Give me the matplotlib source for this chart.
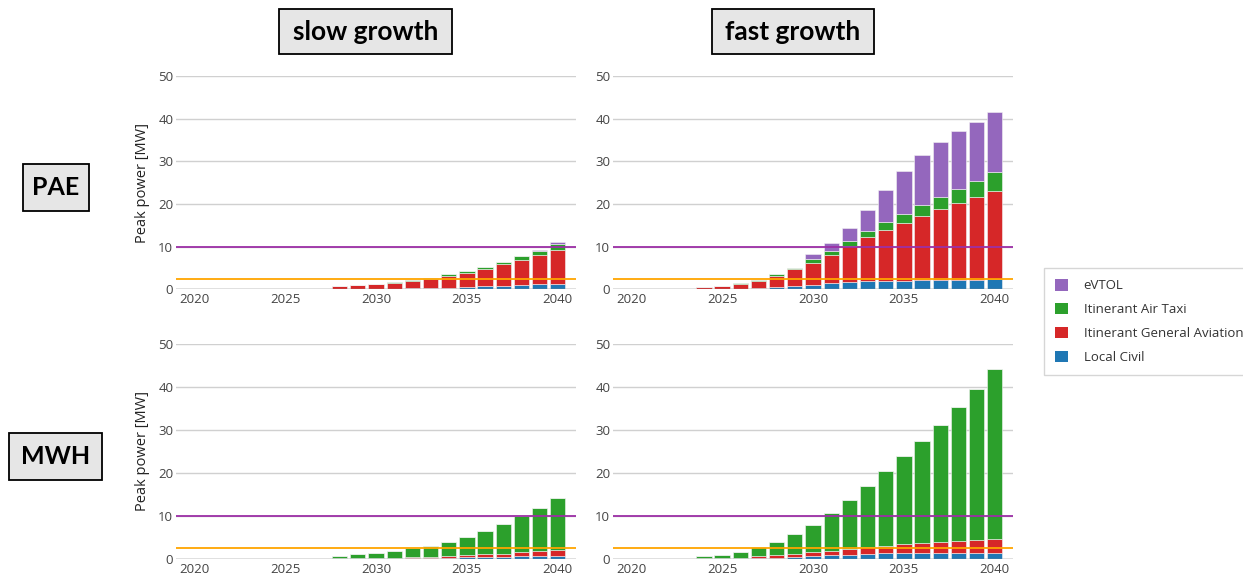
import matplotlib
matplotlib.use("Agg")
import matplotlib.pyplot as plt
from matplotlib.patches import Patch, Rectangle

plt.rcParams['font.family'] = ['Open Sans', 'DejaVu Sans']

years = list(range(2020, 2041))
year_ticks = [2020, 2025, 2030, 2035, 2040]
y_ticks = [0, 10, 20, 30, 40, 50]

series_names = ["Local Civil", "Itinerant General Aviation", "Itinerant Air Taxi", "eVTOL"]
series_colors = ["#1f77b4", "#d62728", "#2ca02c", "#9467bd"]

# PAE, slow growth
pae_slow_local = [0, 0, 0, 0, 0, 0, 0, 0, 0.05, 0.08, 0.1, 0.15, 0.2, 0.3, 0.4, 0.55, 0.7, 0.8, 0.95, 1.2, 1.35]
pae_slow_ga = [0, 0, 0, 0, 0, 0, 0, 0, 0.65, 0.83, 1.09, 1.35, 1.75, 2.2, 2.8, 3.35, 4.1, 5.05, 5.93, 6.85, 7.95]
pae_slow_taxi = [0, 0, 0, 0, 0, 0, 0, 0, 0, 0.02, 0.05, 0.1, 0.15, 0.2, 0.3, 0.4, 0.5, 0.65, 0.85, 1.0, 1.3]
pae_slow_evtol = [0, 0, 0, 0, 0, 0, 0, 0, 0, 0, 0, 0, 0, 0, 0, 0, 0, 0, 0.02, 0.05, 0.4]

# PAE, fast growth
pae_fast_local = [0, 0, 0, 0, 0.05, 0.08, 0.12, 0.2, 0.45, 0.8, 1.0, 1.4, 1.64, 1.9, 1.95, 2.0, 2.1, 2.2, 2.2, 2.25, 2.3]
pae_fast_ga = [0, 0, 0, 0, 0.42, 0.78, 1.23, 1.77, 2.75, 3.88, 5.25, 6.73, 8.52, 10.3, 11.95, 13.6, 15.1, 16.55, 18.0, 19.35, 20.8]
pae_fast_taxi = [0, 0, 0, 0, 0, 0, 0.05, 0.3, 0.3, 0.4, 0.78, 0.85, 1.14, 1.4, 1.9, 2.1, 2.5, 2.85, 3.3, 3.9, 4.3]
pae_fast_evtol = [0, 0, 0, 0, 0, 0, 0, 0, 0, 0, 1.17, 1.88, 3.1, 5.0, 7.4, 9.96, 11.8, 13.0, 13.6, 13.8, 14.1]

# MWH, slow growth
mwh_slow_local = [0, 0, 0, 0, 0, 0, 0, 0, 0.02, 0.03, 0.05, 0.07, 0.1, 0.15, 0.2, 0.25, 0.3, 0.4, 0.47, 0.55, 0.63]
mwh_slow_ga = [0, 0, 0, 0, 0, 0, 0, 0, 0.08, 0.09, 0.1, 0.13, 0.2, 0.25, 0.35, 0.45, 0.65, 0.7, 0.93, 1.1, 1.34]
mwh_slow_taxi = [0, 0, 0, 0, 0, 0, 0, 0, 0.53, 0.82, 1.11, 1.53, 2.06, 2.6, 3.39, 4.34, 5.45, 6.85, 8.6, 10.15, 12.03]
mwh_slow_evtol = [0, 0, 0, 0, 0, 0, 0, 0, 0, 0, 0, 0, 0, 0, 0, 0, 0, 0, 0, 0, 0]

# MWH, fast growth
mwh_fast_local = [0, 0, 0, 0, 0.02, 0.04, 0.07, 0.15, 0.23, 0.39, 0.47, 0.78, 0.93, 1.09, 1.17, 1.2, 1.25, 1.28, 1.32, 1.35, 1.38]
mwh_fast_ga = [0, 0, 0, 0, 0.05, 0.08, 0.15, 0.32, 0.47, 0.7, 0.93, 1.01, 1.32, 1.55, 1.78, 2.07, 2.25, 2.45, 2.72, 2.93, 3.12]
mwh_fast_taxi = [0, 0, 0, 0, 0.55, 0.81, 1.34, 2.17, 3.11, 4.51, 6.45, 8.79, 11.35, 14.31, 17.35, 20.6, 24.0, 27.47, 31.16, 35.22, 39.75]
mwh_fast_evtol = [0, 0, 0, 0, 0, 0, 0, 0, 0, 0, 0, 0, 0, 0, 0, 0, 0, 0, 0, 0, 0]

limit_high = 10
limit_low = 2.5

W, H = 1243, 574


def px_box(x0, y0, x1, y1):
    # pixel box (top-left origin) -> figure fraction [left, bottom, width, height]
    return [x0 / W, 1 - y1 / H, (x1 - x0) / W, (y1 - y0) / H]


def stacked(ax, stacks, ylabel=False):
    bottom = [0] * len(years)
    for vals, color in zip(stacks, series_colors):
        ax.bar(years, vals, bottom=bottom, width=0.84, color=color,
               edgecolor="#f4f4f4", linewidth=0.4, zorder=2)
        bottom = [b + v for b, v in zip(bottom, vals)]
    ax.axhline(limit_high, color="#9c2fa6", lw=1.3, zorder=4)
    ax.axhline(limit_low, color="#ffa500", lw=1.3, zorder=4)
    ax.axhline(0, color="#8a8a8a", lw=1.0, zorder=3)
    ax.set_xlim(2019.0, 2041.0)
    ax.set_ylim(0, 50)
    ax.set_yticks(y_ticks)
    ax.set_xticks(year_ticks)
    ax.grid(axis="y", color="#d0d0d0", lw=1.0, zorder=0)
    ax.set_axisbelow(True)
    for s in ax.spines.values():
        s.set_visible(False)
    ax.tick_params(length=0, labelsize=9.5, colors="#444444")
    ax.tick_params(axis="y", pad=2)
    ax.tick_params(axis="x", pad=3)
    if ylabel:
        ax.set_ylabel("Peak power [MW]", fontsize=10.5, color="#222222", labelpad=6)


fig = plt.figure(figsize=(W / 100, H / 100), dpi=100)

ax1 = fig.add_axes(px_box(176, 76, 576, 289.3))
ax2 = fig.add_axes(px_box(613, 76, 1013, 289.3))
ax3 = fig.add_axes(px_box(176, 344, 576, 558.5))
ax4 = fig.add_axes(px_box(613, 344, 1013, 558.5))

stacked(ax1, [pae_slow_local, pae_slow_ga, pae_slow_taxi, pae_slow_evtol], ylabel=True)
stacked(ax2, [pae_fast_local, pae_fast_ga, pae_fast_taxi, pae_fast_evtol])
stacked(ax3, [mwh_slow_local, mwh_slow_ga, mwh_slow_taxi, mwh_slow_evtol], ylabel=True)
stacked(ax4, [mwh_fast_local, mwh_fast_ga, mwh_fast_taxi, mwh_fast_evtol])

# boxed labels for columns and rows
labels = [
    ("slow growth", 279, 9, 452, 54, 19),
    ("fast growth", 712, 9, 874, 54, 19),
    ("PAE", 23, 164, 89, 211, 18),
    ("MWH", 9, 433, 102, 480, 18),
]
for text, x0, y0, x1, y1, fs in labels:
    fig.patches.append(Rectangle((x0 / W, 1 - y1 / H), (x1 - x0) / W, (y1 - y0) / H,
                                 transform=fig.transFigure, facecolor="#e6e6e6",
                                 edgecolor="black", lw=1.3))
    fig.text((x0 + x1) / 2 / W, 1 - (y0 + y1) / 2 / H, text, ha="center", va="center",
             fontsize=fs, fontweight="bold", family=["Lato", "DejaVu Sans"])

# legend, top trace first like plotly
handles = [Patch(facecolor=c, edgecolor="none") for c in series_colors[::-1]]
leg = fig.legend(handles, series_names[::-1], loc="upper left",
                 bbox_to_anchor=(1044 / W, 1 - 268 / H), frameon=True, fontsize=9.5,
                 handlelength=0.95, handleheight=0.95, handletextpad=1.2,
                 labelspacing=0.8, borderpad=0.85, borderaxespad=0, fancybox=False)
leg.get_frame().set_edgecolor("#cccccc")
leg.get_frame().set_linewidth(1.0)
for t in leg.get_texts():
    t.set_color("#333333")

fig.savefig("out.png", dpi=100)
